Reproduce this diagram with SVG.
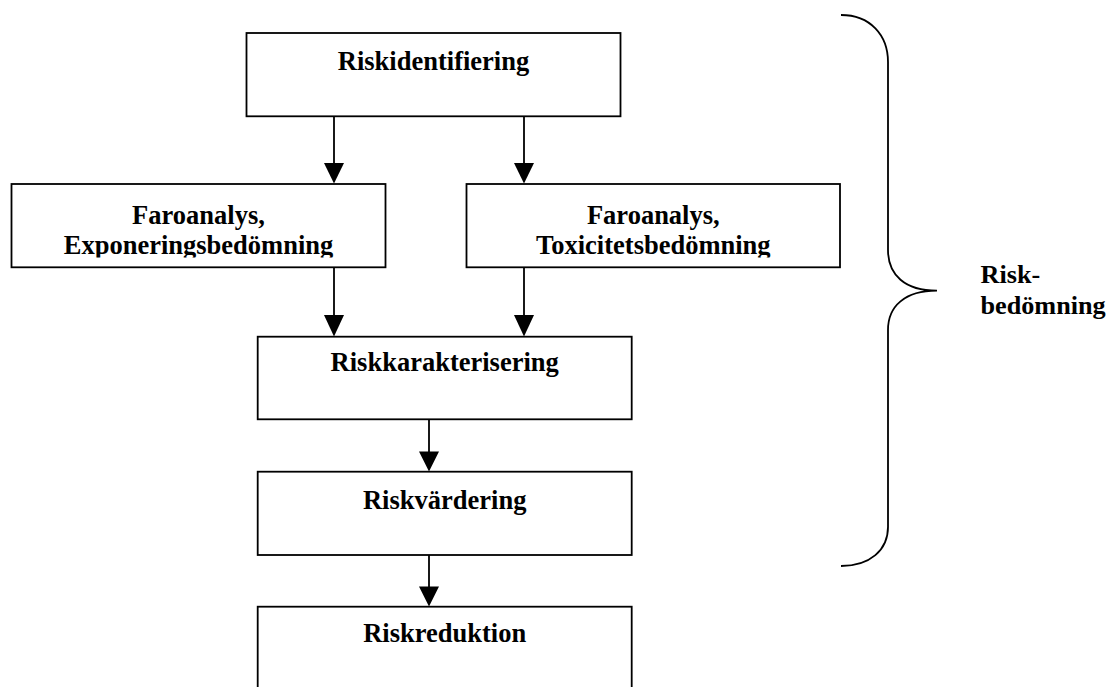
<svg xmlns="http://www.w3.org/2000/svg" width="1109" height="687" viewBox="0 0 1109 687">
<style>
.box{fill:#fff;stroke:#000;stroke-width:1.8}
.t{font-family:"Liberation Serif","Times New Roman",serif;font-weight:bold;font-size:26.5px;fill:#000;text-anchor:middle}
.lbl{font-family:"Liberation Serif","Times New Roman",serif;font-weight:bold;font-size:26.2px;fill:#000}
.edge{stroke:#000;stroke-width:1.8;fill:none}
.head{fill:#000;stroke:none}
</style>
<defs>
<clipPath id="clipL"><rect x="12" y="185" width="373" height="72.5"/></clipPath>
<clipPath id="clipR"><rect x="467" y="185" width="373" height="72.5"/></clipPath>
</defs>
<rect width="1109" height="687" fill="#fff"/>
<g id="connectors">
<line class="edge" x1="334" y1="116" x2="334" y2="165"/>
<polygon class="head" points="324,163 344,163 334,183.5"/>
<line class="edge" x1="524" y1="116" x2="524" y2="165"/>
<polygon class="head" points="514,163 534,163 524,183.5"/>
<line class="edge" x1="334" y1="267" x2="334" y2="317"/>
<polygon class="head" points="324,315 344,315 334,336.5"/>
<line class="edge" x1="524" y1="267" x2="524" y2="317"/>
<polygon class="head" points="514,315 534,315 524,336.5"/>
<line class="edge" x1="429" y1="419" x2="429" y2="453"/>
<polygon class="head" points="419,451.5 439,451.5 429,471.5"/>
<line class="edge" x1="429" y1="555" x2="429" y2="588"/>
<polygon class="head" points="419,586.5 439,586.5 429,606.5"/>
</g>
<g id="n-riskidentifiering">
<rect class="box" x="246.5" y="33" width="374" height="83.3"/>
<text class="t" x="433.5" y="69.8">Riskidentifiering</text>
</g>
<g id="n-faro-expo">
<rect class="box" x="11.5" y="184" width="374" height="83.3"/>
<text class="t" x="198.5" y="223.5" clip-path="url(#clipL)">Faroanalys,</text>
<text class="t" x="198.5" y="254.3" clip-path="url(#clipL)">Exponeringsbedömning</text>
</g>
<g id="n-faro-tox">
<rect class="box" x="466.5" y="184" width="373.5" height="83.3"/>
<text class="t" x="653.3" y="223.5" clip-path="url(#clipR)">Faroanalys,</text>
<text class="t" x="653.3" y="254.3" clip-path="url(#clipR)">Toxicitetsbedömning</text>
</g>
<g id="n-riskkarakterisering">
<rect class="box" x="257.7" y="336.7" width="374" height="82.6"/>
<text class="t" x="444.7" y="370.5">Riskkarakterisering</text>
</g>
<g id="n-riskvardering">
<rect class="box" x="257.7" y="471.7" width="374" height="83.3"/>
<text class="t" x="444.7" y="508.8">Riskvärdering</text>
</g>
<g id="n-riskreduktion">
<rect class="box" x="257.7" y="606.7" width="374" height="100"/>
<text class="t" x="444.7" y="642.2">Riskreduktion</text>
</g>
<g id="brace">
<path class="edge" d="M841,15 C870,15 888,35 888,62 L888,250 C888,275 905,290.7 937,290.7 C905,290.7 888,306 888,330 L888,527 C888,550 870,566 841,566"/>
<text class="lbl" x="980.5" y="282.5">Risk-</text>
<text class="lbl" x="980.5" y="314.3">bedömning</text>
</g>
</svg>
